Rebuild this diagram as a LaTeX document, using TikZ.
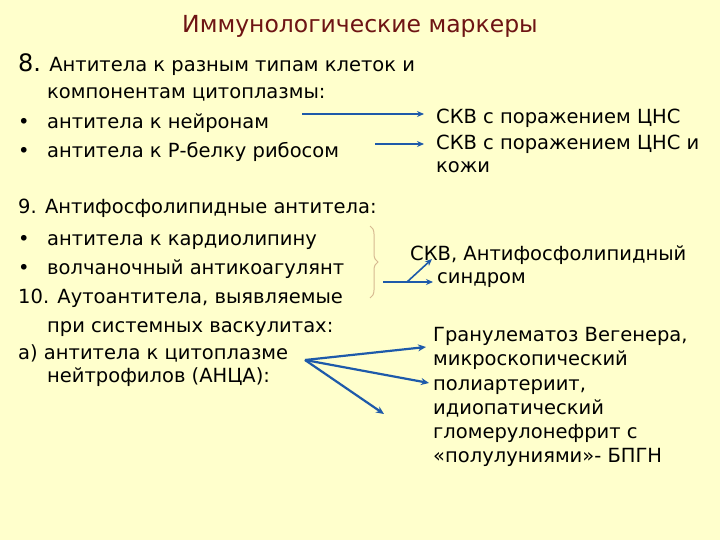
\documentclass[tikz,border=0pt]{standalone}
\usepackage{fontspec}
\setmainfont{DejaVu Sans}
\usetikzlibrary{arrows.meta,decorations.pathreplacing}
\definecolor{bg}{RGB}{255,255,204}
\definecolor{titlec}{RGB}{110,20,20}
\definecolor{arr}{RGB}{30,90,170}
\definecolor{bracec}{RGB}{215,185,145}
\begin{document}
\begin{tikzpicture}[x=1pt,y=-1pt,
  txt/.style={anchor=base west,inner sep=0pt,font=\fontsize{19.5}{22}\selectfont},
  arrow1/.style={draw=arr,line width=1.6pt,-{Stealth[length=7pt,width=6pt]}},
  arrow2/.style={draw=arr,line width=2.2pt,-{Stealth[length=8pt,width=7pt]}}]
\fill[bg] (0,0) rectangle (720,540);
\useasboundingbox (0,0) rectangle (720,540);
\node[anchor=base,inner sep=0pt,text=titlec,font=\fontsize{23.5}{26}\selectfont] (title) at (360,33) {Иммунологические маркеры};
% section 8
\node[txt] (l8) at (18,72) {{\fontsize{24}{26}\selectfont 8.} Антитела к разным типам клеток и};
\node[txt] (l8b) at (47,99) {компонентам цитоплазмы:};
\node[txt] (bu1) at (18,129) {•};
\node[txt] (l8c) at (47,129) {антитела к нейронам};
\node[txt] (bu2) at (18,158) {•};
\node[txt] (l8d) at (47,158) {антитела к Р-белку рибосом};
\coordinate (a1s) at (302,114);
\coordinate (a1e) at (424,114);
\coordinate (a2s) at (375,144);
\coordinate (a2e) at (424,144);
\draw[arrow1] (a1s) -- (a1e);
\draw[arrow1] (a2s) -- (a2e);
\node[txt] (r1) at (436,124) {СКВ с поражением ЦНС};
\node[txt] (r2) at (436,150) {СКВ с поражением ЦНС и};
\node[txt] (r3) at (436,173) {кожи};
% section 9
\node[txt] (l9) at (18,214) {9. Антифосфолипидные антитела:};
\node[txt] (bu3) at (18,245) {•};
\node[txt] (l9b) at (47,245) {антитела к кардиолипину};
\node[txt] (bu4) at (18,274) {•};
\node[txt] (l9c) at (47,274) {волчаночный антикоагулянт};
\node[txt] (l10) at (18,303) {10. Аутоантитела, выявляемые};
\node[txt] (l10b) at (47,332) {при системных васкулитах:};
\node[txt] (l10c) at (18,359) {а) антитела к цитоплазме};
\node[txt] (l10d) at (47,382) {нейтрофилов (АНЦА):};
\coordinate (bt) at (370,226);
\coordinate (bb) at (370,298);
\draw[bracec,line width=1pt,decorate,decoration={brace,amplitude=8pt}] (bt) -- (bb);
\coordinate (b9s) at (383,282);
\coordinate (b9m) at (407,282);
\coordinate (b9e) at (433,282);
\coordinate (b9u) at (432,259);
\draw[arrow1] (b9s) -- (b9e);
\draw[arrow1] (b9m) -- (b9u);
\node[txt] (r9a) at (410,260) {СКВ, Антифосфолипидный};
\node[txt] (r9b) at (437,283) {синдром};
% ANCA
\coordinate (ao) at (305,360);
\coordinate (ae1) at (426,347);
\coordinate (ae2) at (429,383);
\coordinate (ae3) at (384,414);
\draw[arrow2] (ao) -- (ae1);
\draw[arrow2] (ao) -- (ae2);
\draw[arrow2] (ao) -- (ae3);
\node[txt] (g1) at (433,341) {Гранулематоз Вегенера,};
\node[txt] (g2) at (433,365) {микроскопический};
\node[txt] (g3) at (433,390) {полиартериит,};
\node[txt] (g4) at (433,414) {идиопатический};
\node[txt] (g5) at (433,438) {гломерулонефрит с};
\node[txt] (g6) at (433,462) {«полулуниями»- БПГН};
\end{tikzpicture}
\end{document}
